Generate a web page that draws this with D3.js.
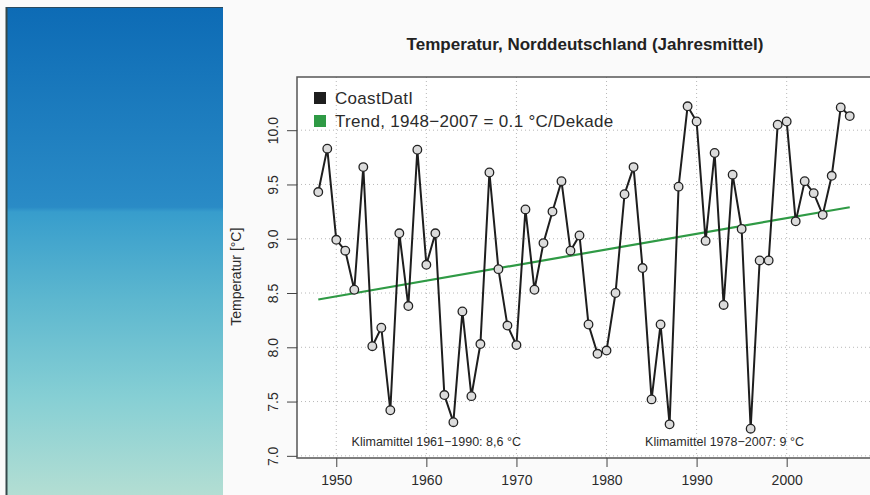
<!DOCTYPE html>
<html>
<head>
<meta charset="utf-8">
<script src="https://cdn.jsdelivr.net/npm/d3@7"></script>
<style>
	body { margin: 0; background: #fafafa; }
	svg { display: block; font-family: "Liberation Sans", Arial, sans-serif; }
</style>
</head>
<body>
<div id="chart"></div>
<script>
// Annual mean temperature, northern Germany (CoastDat)
const years = d3.range(1948, 2008);
const temps = [
	9.43, 9.83, 8.99, 8.89, 8.53, 9.66, 8.01, 8.18, 7.42, 9.05,
	8.38, 9.82, 8.76, 9.05, 7.56, 7.31, 8.33, 7.55, 8.03, 9.61,
	8.72, 8.20, 8.02, 9.27, 8.53, 8.96, 9.25, 9.53, 8.89, 9.03,
	8.21, 7.94, 7.97, 8.50, 9.41, 9.66, 8.73, 7.52, 8.21, 7.29,
	9.48, 10.22, 10.08, 8.98, 9.79, 8.39, 9.59, 9.09, 7.25, 8.80,
	8.80, 10.05, 10.08, 9.16, 9.53, 9.42, 9.22, 9.58, 10.21, 10.13
];
const trendYears = [1948, 2007];
const trendValues = [8.44, 9.29];
const xTicks = [1950, 1960, 1970, 1980, 1990, 2000];
const yTicks = [7.0, 7.5, 8.0, 8.5, 9.0, 9.5, 10.0];
const legendLabels = ['CoastDatI', 'Trend, 1948\u22122007 = 0.1 \u00B0C/Dekade'];
const notes = [
	{ year: 1961.1, text: 'Klimamittel 1961\u22121990: 8,6 \u00B0C' },
	{ year: 1993.1, text: 'Klimamittel 1978\u22122007: 9 \u00B0C' }
];

const width = 870, height = 495;
const lineColor = '#1e1e1e',
	trendColor = '#2f9a45',
	textColor = '#2b2b2b';

const svg = d3.select('#chart').append('svg')
	.attr('width', width)
	.attr('height', height);

// page background
svg.append('rect').attr('width', width).attr('height', height).attr('fill', '#fafafa');

// left side panel with gradient
const defs = svg.append('defs');
const grad = defs.append('linearGradient')
	.attr('id', 'panelGrad')
	.attr('x1', 0).attr('y1', 0).attr('x2', 0).attr('y2', 1);
[
	['0', '#0d6bb5'], ['0.41', '#2a8bc6'], ['0.42', '#379dcc'],
	['0.6', '#5db7cf'], ['0.8', '#86cfd4'], ['1', '#b3ded3']
].forEach(s => grad.append('stop').attr('offset', s[0]).attr('stop-color', s[1]));

svg.append('rect')
	.attr('x', 6).attr('y', 7)
	.attr('width', 217).attr('height', height - 7)
	.attr('fill', 'url(#panelGrad)');
svg.append('line')
	.attr('x1', 6.5).attr('x2', 6.5).attr('y1', 7).attr('y2', height)
	.attr('stroke', '#34484a').attr('stroke-width', 2);
svg.append('line')
	.attr('x1', 6).attr('x2', 223).attr('y1', 7.5).attr('y2', 7.5)
	.attr('stroke', '#2a4a60').attr('stroke-width', 1);

// plot area
const x = d3.scaleLinear().domain([1945.64, 2009.36]).range([297, 871]);
const y = d3.scaleLinear().domain([6.98, 10.49]).range([458, 77]);

svg.append('rect')
	.attr('x', 297).attr('y', 77)
	.attr('width', 574).attr('height', 381)
	.attr('fill', '#ffffff');

// dotted grid
const grid = svg.append('g').attr('class', 'grid')
	.attr('stroke', '#b8b8b8').attr('stroke-dasharray', '1,3');
grid.selectAll('.vgrid').data(xTicks).enter().append('line')
	.attr('x1', d => x(d)).attr('x2', d => x(d))
	.attr('y1', 77).attr('y2', 458);
grid.selectAll('.hgrid').data(yTicks).enter().append('line')
	.attr('y1', d => y(d)).attr('y2', d => y(d))
	.attr('x1', 297).attr('x2', 871);

// trend
const line = d3.line().x(d => x(d[0])).y(d => y(d[1]));
svg.append('path')
	.datum(trendYears.map((yr, i) => [yr, trendValues[i]]))
	.attr('d', line)
	.attr('fill', 'none')
	.attr('stroke', trendColor)
	.attr('stroke-width', 2.2);

// series
const series = years.map((yr, i) => [yr, temps[i]]);
svg.append('path')
	.datum(series)
	.attr('d', line)
	.attr('fill', 'none')
	.attr('stroke', lineColor)
	.attr('stroke-width', 2);

svg.append('g').selectAll('circle')
	.data(series)
	.enter().append('circle')
		.attr('cx', d => x(d[0]))
		.attr('cy', d => y(d[1]))
		.attr('r', 4.3)
		.attr('fill', '#dcdcdc')
		.attr('stroke', '#222')
		.attr('stroke-width', 1.3);

// box
svg.append('rect')
	.attr('x', 297).attr('y', 77)
	.attr('width', 574).attr('height', 381)
	.attr('fill', 'none')
	.attr('stroke', '#555')
	.attr('stroke-width', 1.5);

// axes
const xAxis = svg.append('g')
	.attr('transform', 'translate(0,458)')
	.call(d3.axisBottom(x).tickValues(xTicks).tickFormat(d3.format('d')).tickSize(9).tickSizeOuter(0).tickPadding(8));
xAxis.select('.domain').remove();
xAxis.selectAll('line').attr('stroke', '#444');
xAxis.selectAll('text')
	.style('font-size', '14px')
	.attr('fill', textColor);

const yAxis = svg.append('g')
	.attr('transform', 'translate(297,0)')
	.call(d3.axisLeft(y).tickValues(yTicks).tickFormat(d3.format('.1f')).tickSize(10).tickSizeOuter(0));
yAxis.select('.domain').remove();
yAxis.selectAll('line').attr('stroke', '#444');
yAxis.selectAll('text')
	.attr('x', 0)
	.attr('y', -19)
	.attr('dy', 0)
	.attr('transform', 'rotate(-90)')
	.attr('text-anchor', 'middle')
	.style('font-size', '14px')
	.attr('fill', textColor);

// axis title
svg.append('text')
	.attr('transform', 'translate(241,' + y(8.65) + ') rotate(-90)')
	.attr('text-anchor', 'middle')
	.style('font-size', '14px')
	.attr('fill', textColor)
	.text('Temperatur [\u00B0C]');

// chart title
svg.append('text')
	.attr('x', 585).attr('y', 50)
	.attr('text-anchor', 'middle')
	.style('font-size', '17px')
	.style('font-weight', 'bold')
	.attr('fill', '#222')
	.text('Temperatur, Norddeutschland (Jahresmittel)');

// legend
const legendColors = [lineColor, trendColor];
const legend = svg.append('g').attr('transform', 'translate(314,0)');
legend.selectAll('rect').data(legendLabels).enter().append('rect')
	.attr('x', 0)
	.attr('y', (d, i) => 92 + i * 23)
	.attr('width', 12).attr('height', 12)
	.attr('fill', (d, i) => legendColors[i]);
legend.selectAll('text').data(legendLabels).enter().append('text')
	.attr('x', 21)
	.attr('y', (d, i) => 104 + i * 23)
	.style('font-size', '17px')
	.style('letter-spacing', '0.3px')
	.attr('fill', textColor)
	.text(d => d);

// climate-normal notes
svg.append('g').selectAll('text').data(notes).enter().append('text')
	.attr('x', d => x(d.year))
	.attr('y', 446)
	.attr('text-anchor', 'middle')
	.style('font-size', '12.5px')
	.attr('fill', textColor)
	.text(d => d.text);
</script>
</body>
</html>
